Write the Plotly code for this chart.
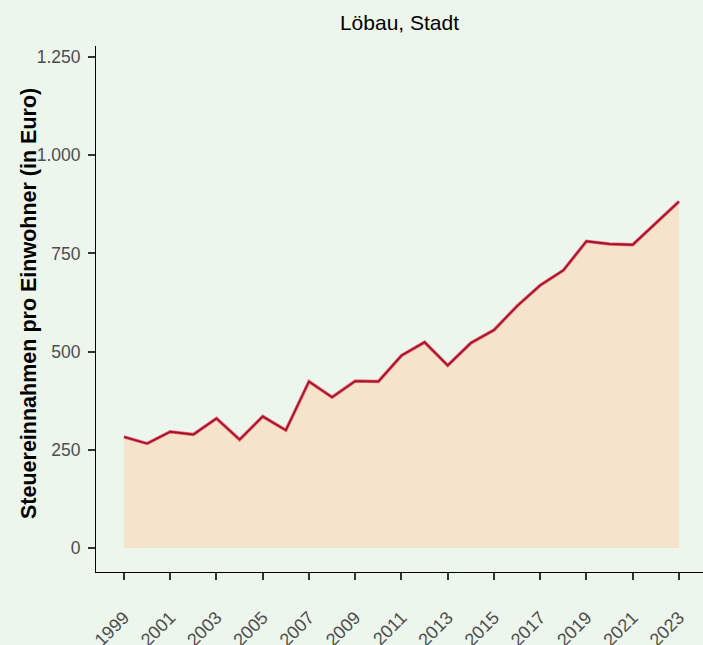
import plotly.graph_objects as go

years = list(range(1999, 2024))
values = [283, 266, 296, 289, 330, 276, 335, 300, 424, 384, 425, 424, 490,
          524, 465, 522, 555, 616, 669, 707, 781, 774, 772, 827, 882]

y_tickvals = [0, 250, 500, 750, 1000, 1250]
y_ticktext = ["0", "250", "500", "750", "1.000", "1.250"]
x_tickvals = list(range(1999, 2024, 2))
x_ticktext = [str(v) for v in x_tickvals]

title_text = "Löbau, Stadt"
y_title = "Steuereinnahmen pro Einwohner (in Euro)"

BG = "#edf6ec"
FILL = "#f5e3cb"

W, H = 703, 645
L, R, T, B = 96, 0, 46, 73

fig = go.Figure()
fig.add_trace(go.Scatter(x=years, y=values, mode="lines", fill="tozeroy",
                         fillcolor=FILL, line=dict(color="rgba(0,0,0,0)", width=0),
                         hoverinfo="skip", showlegend=False))
fig.add_trace(go.Scatter(x=years, y=values, mode="lines",
                         line=dict(color="rgba(215,60,80,0.7)", width=3.4),
                         showlegend=False))
fig.add_trace(go.Scatter(x=years, y=values, mode="lines",
                         line=dict(color="#a80f28", width=1.8),
                         showlegend=False))

fig.update_layout(
    width=W, height=H,
    paper_bgcolor=BG, plot_bgcolor=BG,
    margin=dict(l=L, r=R, t=T, b=B, autoexpand=False),
    separators=",.",
    font=dict(family="Liberation Sans, Arial, sans-serif"),
    title=dict(text=title_text, xref="paper", x=0.5, xanchor="center",
               yref="container", y=1 - 23 / H, yanchor="middle",
               font=dict(size=21, color="#000000")),
    xaxis=dict(range=[1997.79, 2024.04], tickvals=x_tickvals, ticktext=x_ticktext,
               tickangle=-45, showgrid=False, zeroline=False, automargin=False,
               showline=True, linecolor="#000000", linewidth=1,
               ticks="outside", ticklen=7, tickwidth=2, tickcolor="#333333",
               ticklabelstandoff=20,
               tickfont=dict(size=18, color="#4d4d4d")),
    yaxis=dict(range=[-61, 1278], tickvals=y_tickvals, ticktext=y_ticktext,
               showgrid=False, zeroline=False, automargin=False,
               showline=True, linecolor="#000000", linewidth=1,
               ticks="outside", ticklen=7, tickwidth=2, tickcolor="#333333",
               ticklabelstandoff=4,
               tickfont=dict(size=17.5, color="#4d4d4d")),
    annotations=[dict(text="<b>" + y_title + "</b>", textangle=-90,
                      xref="paper", x=(29 - L) / (W - L - R), xanchor="center",
                      yref="paper", y=0.5 + ((H - B - T) / 2 + T - 304) / (H - B - T),
                      yanchor="middle", showarrow=False,
                      font=dict(size=21.5, color="#000000"))],
)

fig.write_html("out.html", config={"displayModeBar": False},
               post_script="document.body.style.margin='0';")
